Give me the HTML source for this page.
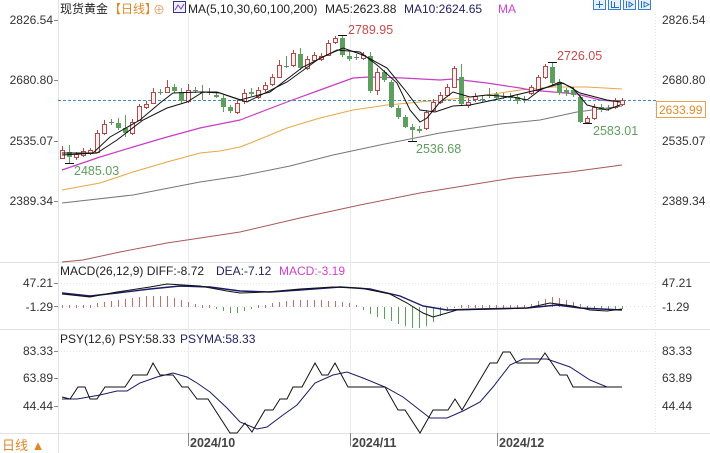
<!DOCTYPE html>
<html><head><meta charset="utf-8">
<style>
html,body{margin:0;padding:0;background:#fff;}
svg{display:block;}
text{font-family:"Liberation Sans","Noto Sans CJK SC",sans-serif;}
</style></head>
<body>
<svg width="710" height="453" viewBox="0 0 710 453" xmlns="http://www.w3.org/2000/svg">
<rect width="710" height="453" fill="#fff"/>
<!-- separators & grid -->
<g stroke="#e2e2e2" stroke-width="1" shape-rendering="crispEdges">
<line x1="0" y1="262.5" x2="710" y2="262.5"/>
<line x1="0" y1="329.5" x2="710" y2="329.5"/>
<line x1="0" y1="433.5" x2="710" y2="433.5"/>
<line x1="58.5" y1="0" x2="58.5" y2="453"/>
</g>
<g stroke="#ececec" stroke-width="1" shape-rendering="crispEdges">
<line x1="188.5" y1="14" x2="188.5" y2="433"/>
<line x1="350.5" y1="14" x2="350.5" y2="433"/>
<line x1="497.5" y1="14" x2="497.5" y2="433"/>
</g>
<g stroke="#e4e4e4" stroke-dasharray="1,2" shape-rendering="crispEdges">
<line x1="655.5" y1="14" x2="655.5" y2="433"/>
<line x1="58" y1="283.5" x2="655" y2="283.5"/>
<line x1="58" y1="351.5" x2="655" y2="351.5"/>
</g>
<g stroke="#dcdcdc" stroke-dasharray="1,3" shape-rendering="crispEdges">
<line x1="58" y1="306.5" x2="655" y2="306.5"/>
</g>
<!-- tick marks -->
<g stroke="#888" shape-rendering="crispEdges">
<line x1="54" y1="20.5" x2="58" y2="20.5"/><line x1="54" y1="80.5" x2="58" y2="80.5"/>
<line x1="54" y1="141.5" x2="58" y2="141.5"/><line x1="54" y1="201.5" x2="58" y2="201.5"/>
<line x1="54" y1="283.5" x2="58" y2="283.5"/><line x1="54" y1="306.5" x2="58" y2="306.5"/>
<line x1="54" y1="351.5" x2="58" y2="351.5"/><line x1="54" y1="378.5" x2="58" y2="378.5"/><line x1="54" y1="406.5" x2="58" y2="406.5"/>
<line x1="188.5" y1="433" x2="188.5" y2="446"/><line x1="350.5" y1="433" x2="350.5" y2="446"/><line x1="497.5" y1="433" x2="497.5" y2="446"/>
</g>
<!-- axis labels -->
<g font-size="12" fill="#333" text-anchor="end">
<text x="53" y="24">2826.54</text><text x="53" y="84">2680.80</text><text x="53" y="145">2535.07</text><text x="53" y="205">2389.34</text>
<text x="53" y="287">47.21</text><text x="53" y="311">-1.29</text>
<text x="53" y="355">83.33</text><text x="53" y="382">63.89</text><text x="53" y="410">44.44</text>
</g>
<g font-size="12" fill="#333">
<text x="662" y="24">2826.54</text><text x="662" y="84">2680.80</text><text x="662" y="145">2535.07</text><text x="662" y="205">2389.34</text>
<text x="662" y="287">47.21</text><text x="662" y="311">-1.29</text>
<text x="662" y="355">83.33</text><text x="662" y="382">63.89</text><text x="662" y="410">44.44</text>
</g>
<!-- date labels -->
<g font-size="12.5" font-weight="bold" fill="#444">
<text x="190" y="447">2024/10</text><text x="352" y="447">2024/11</text><text x="499" y="447">2024/12</text>
</g>
<text x="2" y="450" font-size="13" fill="#e0852a">日线 ▲</text>
<!-- header -->
<g font-size="12">
<text x="60" y="13" fill="#222">现货黄金</text>
<text x="109" y="13" fill="#e0892a">【日线】</text>
<text x="153" y="14" fill="#e0a060" font-size="12">⊕</text>
<text x="188" y="13" fill="#222">MA(5,10,30,60,100,200)</text>
<text x="325" y="13" fill="#222">MA5:2623.88</text>
<text x="404" y="13" fill="#222266">MA10:2624.65</text>
<text x="498" y="13" fill="#d040d0">MA</text>
</g>
<rect x="173.5" y="1.5" width="12" height="11" fill="#f0f0ff" stroke="#333388"/>
<polyline points="175,10 178,5 181,9 184,4" fill="none" stroke="#8040a0" stroke-width="1"/>
<!-- right top icons -->
<g stroke="#3a7fd0" fill="#e6f0fb" shape-rendering="crispEdges">
<rect x="593.5" y="-1.5" width="12" height="11"/><rect x="608.5" y="-1.5" width="12" height="11"/>
<rect x="623.5" y="-1.5" width="12" height="11"/><rect x="638.5" y="-1.5" width="12" height="11"/>
</g>
<g stroke="#2a6fc0" stroke-width="1" fill="none" shape-rendering="crispEdges">
<line x1="599.5" y1="1" x2="599.5" y2="8"/><line x1="596" y1="4.5" x2="603" y2="4.5"/>
<line x1="611.5" y1="1" x2="611.5" y2="8"/><line x1="614.5" y1="2" x2="614.5" y2="7"/><line x1="611" y1="7.5" x2="619" y2="7.5"/>
<line x1="626.5" y1="1" x2="626.5" y2="8"/><polygon points="629,2 633,4.5 629,7"/>
<line x1="641.5" y1="1" x2="641.5" y2="8"/><polygon points="644,2 649,4.5 644,7"/>
</g>
<!-- MA200, MA100, MA60, MA30 -->
<polyline fill="none" stroke="#a85858" stroke-width="1" points="62,262 83,260 120,252 167,243 240,232 300,218 360,205 420,193 513,178 570,172 622,165"/>
<polyline fill="none" stroke="#777" stroke-width="1" points="62,203 133,195 200,182 240,176 290,166 333,155 380,145 420,137 440,133 500,124 540,120 577,112 622,106"/>
<polyline fill="none" stroke="#e8a648" stroke-width="1" points="62,190 100,183 133,172 167,162 200,153 220,151 240,147 253,142 287,128 320,118 353,110 387,105 420,102 453,99 487,95 520,90 553,87 587,87 622,89"/>
<polyline fill="none" stroke="#c83cc8" stroke-width="1.2" points="62,170 100,157 133,147 167,137 200,128 240,120 253,115 287,102 320,90 353,78 370,77 403,78 440,80 453,79 487,83 520,88 530,90 553,92 577,94 600,100 622,102"/>
<!-- dashed current price -->
<line x1="58" y1="100.5" x2="656" y2="100.5" stroke="#3d8ac0" stroke-dasharray="3,2"/>
<rect x="656.5" y="101.5" width="49" height="16" fill="#fff" stroke="#e8a050"/>
<text x="659" y="114" font-size="12" fill="#e0892a">2633.99</text>
<!-- candles: wicks -->
<g stroke="#b24a4a" stroke-width="1" shape-rendering="crispEdges">
<line x1="62.5" y1="146" x2="62.5" y2="159"/><line x1="76.5" y1="152" x2="76.5" y2="160"/><line x1="83.5" y1="148" x2="83.5" y2="157"/><line x1="90.5" y1="148" x2="90.5" y2="155"/><line x1="97.5" y1="130" x2="97.5" y2="153"/><line x1="104.5" y1="120" x2="104.5" y2="135"/><line x1="132.5" y1="119" x2="132.5" y2="135"/><line x1="139.5" y1="104" x2="139.5" y2="121"/><line x1="146.5" y1="101" x2="146.5" y2="109"/><line x1="153.5" y1="88" x2="153.5" y2="104"/><line x1="167.5" y1="80" x2="167.5" y2="93"/><line x1="188.5" y1="84" x2="188.5" y2="103"/><line x1="237.5" y1="100" x2="237.5" y2="114"/><line x1="244.5" y1="89" x2="244.5" y2="104"/><line x1="258.5" y1="87" x2="258.5" y2="99"/><line x1="265.5" y1="82" x2="265.5" y2="92"/><line x1="272.5" y1="74" x2="272.5" y2="86"/><line x1="279.5" y1="60" x2="279.5" y2="78"/><line x1="293.5" y1="50" x2="293.5" y2="67"/><line x1="307.5" y1="56" x2="307.5" y2="70"/><line x1="314.5" y1="52" x2="314.5" y2="62"/><line x1="321.5" y1="53" x2="321.5" y2="61"/><line x1="328.5" y1="40" x2="328.5" y2="56"/><line x1="335.5" y1="36" x2="335.5" y2="44"/><line x1="363.5" y1="52" x2="363.5" y2="60"/><line x1="377.5" y1="68" x2="377.5" y2="95"/><line x1="426.5" y1="110" x2="426.5" y2="130"/><line x1="433.5" y1="99" x2="433.5" y2="112"/><line x1="440.5" y1="92" x2="440.5" y2="104"/><line x1="447.5" y1="84" x2="447.5" y2="97"/><line x1="454.5" y1="66" x2="454.5" y2="88"/><line x1="468.5" y1="98" x2="468.5" y2="108"/><line x1="475.5" y1="93" x2="475.5" y2="102"/><line x1="531.5" y1="85" x2="531.5" y2="95"/><line x1="538.5" y1="75" x2="538.5" y2="92"/><line x1="545.5" y1="64" x2="545.5" y2="79"/><line x1="587.5" y1="116" x2="587.5" y2="123"/><line x1="594.5" y1="104" x2="594.5" y2="120"/><line x1="615.5" y1="98" x2="615.5" y2="109"/><line x1="622.5" y1="98" x2="622.5" y2="106"/>
</g>
<g stroke="#5e9e5e" stroke-width="1" shape-rendering="crispEdges">
<line x1="69.5" y1="145" x2="69.5" y2="163"/><line x1="118.5" y1="118" x2="118.5" y2="130"/><line x1="125.5" y1="115" x2="125.5" y2="137"/><line x1="174.5" y1="84" x2="174.5" y2="93"/><line x1="181.5" y1="88" x2="181.5" y2="103"/><line x1="216.5" y1="92" x2="216.5" y2="98"/><line x1="223.5" y1="95" x2="223.5" y2="112"/><line x1="230.5" y1="105" x2="230.5" y2="113"/><line x1="251.5" y1="88" x2="251.5" y2="96"/><line x1="300.5" y1="48" x2="300.5" y2="70"/><line x1="342.5" y1="35" x2="342.5" y2="57"/><line x1="349.5" y1="52" x2="349.5" y2="61"/><line x1="370.5" y1="52" x2="370.5" y2="93"/><line x1="384.5" y1="70" x2="384.5" y2="82"/><line x1="391.5" y1="80" x2="391.5" y2="108"/><line x1="398.5" y1="105" x2="398.5" y2="119"/><line x1="405.5" y1="115" x2="405.5" y2="128"/><line x1="412.5" y1="124" x2="412.5" y2="141"/><line x1="419.5" y1="126" x2="419.5" y2="133"/><line x1="461.5" y1="64" x2="461.5" y2="106"/><line x1="496.5" y1="92" x2="496.5" y2="100"/><line x1="510.5" y1="93" x2="510.5" y2="100"/><line x1="517.5" y1="94" x2="517.5" y2="104"/><line x1="552.5" y1="62" x2="552.5" y2="85"/><line x1="559.5" y1="79" x2="559.5" y2="95"/><line x1="566.5" y1="88" x2="566.5" y2="96"/><line x1="573.5" y1="87" x2="573.5" y2="97"/><line x1="580.5" y1="95" x2="580.5" y2="123"/><line x1="601.5" y1="104" x2="601.5" y2="112"/>
</g>
<!-- doji -->
<g stroke="#6a8a6a" stroke-width="1" shape-rendering="crispEdges">
<line x1="111.5" y1="119" x2="111.5" y2="125"/><line x1="109" y1="122.5" x2="114" y2="122.5"/>
<line x1="160.5" y1="89" x2="160.5" y2="95"/><line x1="158" y1="92.5" x2="163" y2="92.5"/>
<line x1="195.5" y1="87" x2="195.5" y2="93"/><line x1="193" y1="90.5" x2="198" y2="90.5"/>
<line x1="202.5" y1="85" x2="202.5" y2="100"/><line x1="200" y1="92.5" x2="205" y2="92.5"/>
<line x1="209.5" y1="88" x2="209.5" y2="95"/><line x1="207" y1="92.5" x2="212" y2="92.5"/>
<line x1="286.5" y1="56" x2="286.5" y2="68"/><line x1="284" y1="66.5" x2="289" y2="66.5"/>
<line x1="356.5" y1="54" x2="356.5" y2="60"/><line x1="354" y1="57.5" x2="359" y2="57.5"/>
<line x1="482.5" y1="95" x2="482.5" y2="102"/><line x1="480" y1="99.5" x2="485" y2="99.5"/>
<line x1="489.5" y1="88" x2="489.5" y2="98"/><line x1="487" y1="95.5" x2="492" y2="95.5"/>
<line x1="503.5" y1="93" x2="503.5" y2="99"/><line x1="501" y1="96.5" x2="506" y2="96.5"/>
<line x1="524.5" y1="96" x2="524.5" y2="103"/><line x1="522" y1="99.5" x2="527" y2="99.5"/>
<line x1="608.5" y1="105" x2="608.5" y2="111"/><line x1="606" y1="108.5" x2="611" y2="108.5"/>
</g>
<!-- red hollow bodies -->
<g stroke="#b24a4a" fill="#fdf2f2" stroke-width="1" shape-rendering="crispEdges">
<rect x="60.5" y="150.5" width="4" height="8"/><rect x="74.5" y="154.5" width="4" height="3"/><rect x="81.5" y="151.5" width="4" height="4"/><rect x="88.5" y="150.5" width="4" height="3"/><rect x="95.5" y="133.5" width="4" height="19"/><rect x="102.5" y="124.5" width="4" height="9"/><rect x="130.5" y="122.5" width="4" height="11"/><rect x="137.5" y="106.5" width="4" height="14"/><rect x="144.5" y="104.5" width="4" height="3"/><rect x="151.5" y="92.5" width="4" height="11"/><rect x="165.5" y="87.5" width="4" height="5"/><rect x="186.5" y="90.5" width="4" height="11"/><rect x="235.5" y="103.5" width="4" height="9"/><rect x="242.5" y="93.5" width="4" height="8"/><rect x="256.5" y="90.5" width="4" height="7"/><rect x="263.5" y="85.5" width="4" height="4"/><rect x="270.5" y="77.5" width="4" height="7"/><rect x="277.5" y="65.5" width="4" height="12"/><rect x="291.5" y="53.5" width="4" height="12"/><rect x="305.5" y="59.5" width="4" height="9"/><rect x="312.5" y="55.5" width="4" height="5"/><rect x="319.5" y="56.5" width="4" height="3"/><rect x="326.5" y="43.5" width="4" height="12"/><rect x="333.5" y="38.5" width="4" height="4"/><rect x="361.5" y="55.5" width="4" height="3"/><rect x="375.5" y="72.5" width="4" height="18"/><rect x="424.5" y="112.5" width="4" height="16"/><rect x="431.5" y="102.5" width="4" height="8"/><rect x="438.5" y="95.5" width="4" height="7"/><rect x="445.5" y="87.5" width="4" height="8"/><rect x="452.5" y="68.5" width="4" height="19"/><rect x="466.5" y="102.5" width="4" height="3"/><rect x="473.5" y="96.5" width="4" height="3"/><rect x="529.5" y="87.5" width="4" height="6"/><rect x="536.5" y="77.5" width="4" height="13"/><rect x="543.5" y="66.5" width="4" height="11"/><rect x="585.5" y="118.5" width="4" height="4"/><rect x="592.5" y="107.5" width="4" height="11"/><rect x="613.5" y="100.5" width="4" height="7"/><rect x="620.5" y="100.5" width="4" height="4"/>
</g>
<!-- green filled bodies -->
<g fill="#5e9e5e" shape-rendering="crispEdges">
<rect x="67" y="152" width="5" height="5"/><rect x="116" y="123" width="5" height="5"/><rect x="123" y="128" width="5" height="5"/><rect x="172" y="87" width="5" height="4"/><rect x="179" y="92" width="5" height="9"/><rect x="214" y="95" width="5" height="2"/><rect x="221" y="98" width="5" height="9"/><rect x="228" y="107" width="5" height="4"/><rect x="249" y="92" width="5" height="2"/><rect x="298" y="54" width="5" height="14"/><rect x="340" y="38" width="5" height="17"/><rect x="347" y="56" width="5" height="3"/><rect x="368" y="56" width="5" height="35"/><rect x="382" y="72" width="5" height="8"/><rect x="389" y="82" width="5" height="25"/><rect x="396" y="108" width="5" height="9"/><rect x="403" y="117" width="5" height="10"/><rect x="410" y="127" width="5" height="3"/><rect x="417" y="129" width="5" height="2"/><rect x="459" y="77" width="5" height="27"/><rect x="494" y="94" width="5" height="4"/><rect x="508" y="96" width="5" height="2"/><rect x="515" y="97" width="5" height="4"/><rect x="550" y="67" width="5" height="16"/><rect x="557" y="82" width="5" height="11"/><rect x="564" y="90" width="5" height="3"/><rect x="571" y="90" width="5" height="5"/><rect x="578" y="97" width="5" height="25"/><rect x="599" y="107" width="5" height="3"/>
</g>
<!-- MA5, MA10 -->
<polyline fill="none" stroke="#111" stroke-width="1" points="62,153 93,153 110,137 140,120 160,103 173,93 200,92 217,92 240,100 270,92 303,67 337,50 360,52 377,65 397,83 410,110 420,122 427,118 440,102 453,92 470,97 487,95 513,97 527,100 540,90 560,82 573,88 587,105 607,110 620,105"/>
<polyline fill="none" stroke="#111" stroke-width="1" points="62,155 97,153 117,140 143,120 167,108 187,102 203,92 220,93 247,102 287,82 320,58 343,48 363,55 387,68 405,90 420,110 435,112 453,106 470,105 503,98 537,90 563,83 580,93 607,100 620,102"/>
<!-- extreme markers -->
<g stroke="#111" stroke-width="1" shape-rendering="crispEdges">
<line x1="65" y1="163.5" x2="74" y2="163.5"/>
<line x1="338" y1="35.5" x2="347" y2="35.5"/>
<line x1="408" y1="141.5" x2="417" y2="141.5"/>
<line x1="548" y1="62.5" x2="557" y2="62.5"/>
<line x1="583" y1="123.5" x2="592" y2="123.5"/>
</g>
<g font-size="12.5">
<text x="74" y="175" fill="#5e9e5e">2485.03</text>
<text x="348" y="34" fill="#c84a4a">2789.95</text>
<text x="416" y="153" fill="#5e9e5e">2536.68</text>
<text x="557" y="60" fill="#c84a4a">2726.05</text>
<text x="593" y="135" fill="#5e9e5e">2583.01</text>
</g>
<!-- MACD -->
<g font-size="12">
<text x="60" y="275" fill="#222">MACD(26,12,9) DIFF:-8.72</text>
<text x="216" y="275" fill="#222266">DEA:-7.12</text>
<text x="279" y="275" fill="#d040d0">MACD:-3.19</text>
</g>
<g stroke="#c07070" stroke-width="1" shape-rendering="crispEdges">
<line x1="62.5" y1="305" x2="62.5" y2="308"/><line x1="69.5" y1="305" x2="69.5" y2="308"/><line x1="76.5" y1="305" x2="76.5" y2="308"/><line x1="83.5" y1="305" x2="83.5" y2="308"/><line x1="90.5" y1="305" x2="90.5" y2="308"/>
<line x1="97.5" y1="303" x2="97.5" y2="307"/><line x1="104.5" y1="302" x2="104.5" y2="307"/><line x1="111.5" y1="301" x2="111.5" y2="307"/><line x1="118.5" y1="300" x2="118.5" y2="307"/><line x1="125.5" y1="299" x2="125.5" y2="307"/><line x1="132.5" y1="298" x2="132.5" y2="307"/><line x1="139.5" y1="297" x2="139.5" y2="307"/><line x1="146.5" y1="296" x2="146.5" y2="307"/><line x1="153.5" y1="296" x2="153.5" y2="307"/><line x1="160.5" y1="296" x2="160.5" y2="307"/><line x1="167.5" y1="296" x2="167.5" y2="307"/><line x1="174.5" y1="298" x2="174.5" y2="307"/><line x1="181.5" y1="300" x2="181.5" y2="307"/><line x1="188.5" y1="302" x2="188.5" y2="307"/><line x1="195.5" y1="304" x2="195.5" y2="307"/>
<line x1="202.5" y1="305" x2="202.5" y2="308"/><line x1="209.5" y1="305" x2="209.5" y2="308"/><line x1="258.5" y1="305" x2="258.5" y2="308"/><line x1="265.5" y1="305" x2="265.5" y2="308"/>
<line x1="272.5" y1="303" x2="272.5" y2="307"/><line x1="279.5" y1="302" x2="279.5" y2="307"/><line x1="286.5" y1="301" x2="286.5" y2="307"/><line x1="293.5" y1="300" x2="293.5" y2="307"/><line x1="300.5" y1="300" x2="300.5" y2="307"/><line x1="307.5" y1="300" x2="307.5" y2="307"/><line x1="314.5" y1="300" x2="314.5" y2="307"/><line x1="321.5" y1="300" x2="321.5" y2="307"/><line x1="328.5" y1="301" x2="328.5" y2="307"/><line x1="335.5" y1="301" x2="335.5" y2="307"/><line x1="342.5" y1="302" x2="342.5" y2="307"/><line x1="349.5" y1="303" x2="349.5" y2="307"/><line x1="356.5" y1="305" x2="356.5" y2="307"/>
<line x1="461.5" y1="305" x2="461.5" y2="308"/><line x1="468.5" y1="305" x2="468.5" y2="308"/><line x1="475.5" y1="305" x2="475.5" y2="308"/><line x1="482.5" y1="305" x2="482.5" y2="308"/><line x1="489.5" y1="305" x2="489.5" y2="308"/><line x1="496.5" y1="305" x2="496.5" y2="308"/><line x1="503.5" y1="305" x2="503.5" y2="308"/><line x1="510.5" y1="305" x2="510.5" y2="308"/><line x1="517.5" y1="305" x2="517.5" y2="308"/><line x1="524.5" y1="305" x2="524.5" y2="308"/>
<line x1="531.5" y1="304" x2="531.5" y2="307"/><line x1="538.5" y1="301" x2="538.5" y2="307"/><line x1="545.5" y1="299" x2="545.5" y2="307"/><line x1="552.5" y1="297" x2="552.5" y2="307"/><line x1="559.5" y1="298" x2="559.5" y2="307"/><line x1="566.5" y1="300" x2="566.5" y2="307"/><line x1="573.5" y1="302" x2="573.5" y2="307"/><line x1="580.5" y1="304" x2="580.5" y2="307"/>
</g>
<g stroke="#5e9e5e" stroke-width="1" shape-rendering="crispEdges">
<line x1="216.5" y1="307" x2="216.5" y2="309"/><line x1="223.5" y1="307" x2="223.5" y2="311"/><line x1="230.5" y1="307" x2="230.5" y2="313"/><line x1="237.5" y1="307" x2="237.5" y2="313"/><line x1="244.5" y1="307" x2="244.5" y2="311"/><line x1="251.5" y1="307" x2="251.5" y2="309"/>
<line x1="363.5" y1="307" x2="363.5" y2="310"/><line x1="370.5" y1="307" x2="370.5" y2="314"/><line x1="377.5" y1="307" x2="377.5" y2="317"/><line x1="384.5" y1="307" x2="384.5" y2="319"/><line x1="391.5" y1="307" x2="391.5" y2="321"/><line x1="398.5" y1="307" x2="398.5" y2="324"/><line x1="405.5" y1="307" x2="405.5" y2="326"/><line x1="412.5" y1="307" x2="412.5" y2="328"/><line x1="419.5" y1="307" x2="419.5" y2="328"/><line x1="426.5" y1="307" x2="426.5" y2="326"/><line x1="433.5" y1="307" x2="433.5" y2="322"/><line x1="440.5" y1="307" x2="440.5" y2="316"/><line x1="447.5" y1="307" x2="447.5" y2="311"/><line x1="454.5" y1="307" x2="454.5" y2="308"/>
<line x1="587.5" y1="306" x2="587.5" y2="309"/><line x1="594.5" y1="306" x2="594.5" y2="309"/><line x1="601.5" y1="306" x2="601.5" y2="309"/><line x1="608.5" y1="306" x2="608.5" y2="309"/><line x1="615.5" y1="306" x2="615.5" y2="309"/><line x1="622.5" y1="306" x2="622.5" y2="309"/>
</g>
<polyline fill="none" stroke="#1a1a66" stroke-width="1.4" points="62,293 90,296 117,293 150,289 180,286 210,287 240,291 270,292 300,290 340,287 370,289 400,296 423,306 447,310 480,309 527,308 557,305 580,308 622,310"/>
<polyline fill="none" stroke="#111" stroke-width="1" points="62,294 90,297 117,292 150,287 167,284 200,286 227,291 240,293 267,292 300,289 333,287 360,288 390,294 407,303 423,313 433,317 447,313 457,310 500,309 527,308 550,303 573,306 590,310 607,311 622,309"/>
<!-- PSY -->
<g font-size="12">
<text x="60" y="343" fill="#222">PSY(12,6) PSY:58.33</text>
<text x="180" y="343" fill="#222266">PSYMA:58.33</text>
</g>
<polyline fill="none" stroke="#1a1a66" stroke-width="1" points="62,399 77,399 100,395 117,391 127,391 140,383 157,377 173,373 187,377 197,383 210,392 227,408 240,422 257,429 267,427 283,415 297,405 315,383 333,375 347,372 363,378 385,387 403,397 430,418 447,418 463,411 480,402 493,387 510,365 523,359 547,359 570,367 590,380 607,387 622,387"/>
<polyline fill="none" stroke="#111" stroke-width="1" points="62,397 70,399 78,387 85,387 90,399 97,399 105,387 125,387 133,375 147,375 153,363 160,375 173,375 182,387 188,387 197,399 208,399 230,433 237,433 245,423 252,432 265,410 273,410 280,399 287,399 293,387 302,387 315,363 322,375 328,375 335,363 348,387 385,387 398,410 405,410 420,433 433,410 448,410 455,399 462,410 490,363 497,363 503,352 510,352 517,363 538,363 545,353 560,375 567,375 573,387 622,387"/>
</svg>
</body></html>
